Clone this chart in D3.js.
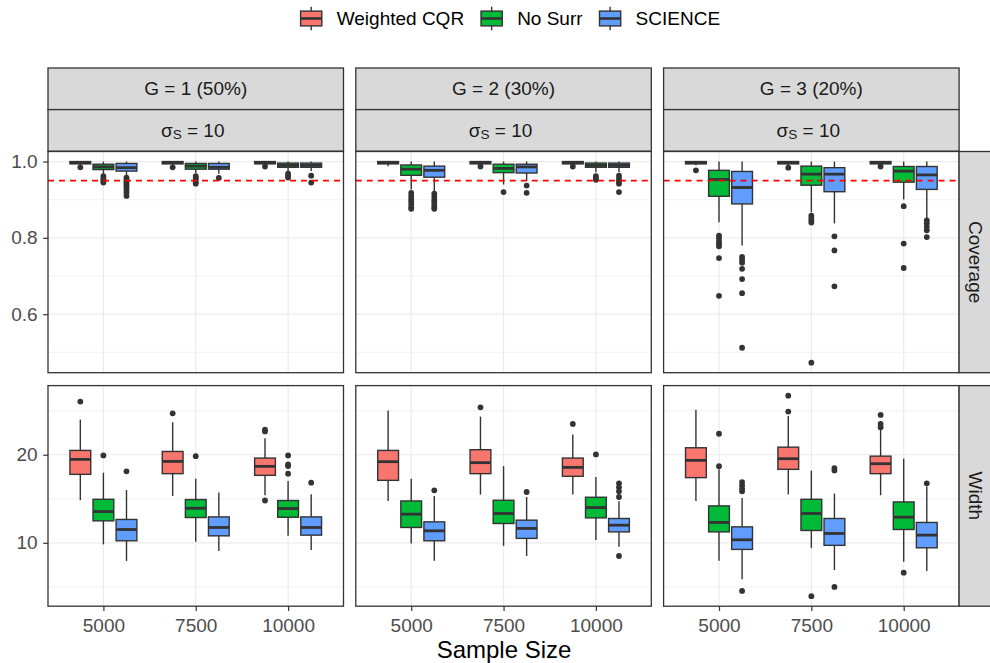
<!DOCTYPE html>
<html><head><meta charset="utf-8">
<script src="https://cdn.jsdelivr.net/npm/d3@7"></script>
<style>
body{margin:0;background:#fff}
svg{display:block}
text{font-family:"Liberation Sans",Arial,Helvetica,sans-serif}
</style>
</head><body>
<svg id="chart" width="990" height="663"></svg>
<script>
// ---------------- DATA ----------------
const groups = ["G = 1 (50%)", "G = 2 (30%)", "G = 3 (20%)"];
const sampleSizes = ["5000", "7500", "10000"];
const methods = ["Weighted CQR", "No Surr", "SCIENCE"];
const methodColors = ["#F8766D", "#00BA38", "#619CFF"];
const metrics = ["Coverage", "Width"];
const coverageTicks = [0.6, 0.8, 1.0];
const coverageMinor = [0.5, 0.7, 0.9];
const widthTicks = [10, 20];
const widthMinor = [5, 15, 25];
const targetCoverage = 0.95;

// [lower whisker, Q1, median, Q3, upper whisker]; [group][sample size][method]
const coverageStats = [
  [ // G = 1
    [[0.990,0.994,0.997,1.000,1.000],[0.968,0.979,0.986,0.993,1.000],[0.963,0.975,0.984,0.995,1.000]],
    [[0.990,0.994,0.997,1.000,1.000],[0.970,0.980,0.988,0.995,1.000],[0.968,0.980,0.985,0.995,1.000]],
    [[0.990,0.994,0.997,1.000,1.000],[0.975,0.985,0.990,0.996,1.000],[0.975,0.985,0.990,0.996,1.000]]
  ],
  [ // G = 2
    [[0.988,0.994,0.997,1.000,1.000],[0.927,0.964,0.980,0.991,1.000],[0.923,0.959,0.977,0.988,1.000]],
    [[0.990,0.994,0.997,1.000,1.000],[0.940,0.971,0.982,0.993,1.000],[0.949,0.970,0.986,0.993,1.000]],
    [[0.990,0.994,0.997,1.000,1.000],[0.972,0.985,0.990,0.996,1.000],[0.972,0.985,0.990,0.996,1.000]]
  ],
  [ // G = 3
    [[0.990,0.994,0.997,1.000,1.000],[0.841,0.909,0.953,0.977,1.000],[0.780,0.889,0.932,0.974,1.000]],
    [[0.990,0.994,0.997,1.000,1.000],[0.867,0.938,0.967,0.988,1.000],[0.838,0.921,0.967,0.984,1.000]],
    [[0.990,0.994,0.997,1.000,1.000],[0.901,0.946,0.975,0.987,1.000],[0.852,0.927,0.965,0.987,1.000]]
  ]
];
const coverageOutliers = [
  [
    [[0.985],[0.962,0.957,0.952,0.948,0.945],[0.958,0.953,0.948,0.943,0.938,0.932,0.925,0.918,0.910]],
    [[0.985],[0.962,0.957,0.952,0.946,0.942],[0.957]],
    [[0.987],[0.968,0.963,0.958],[0.963,0.945]]
  ],
  [
    [[],[0.918,0.910,0.902,0.895,0.888,0.880,0.876],[0.916,0.908,0.900,0.894,0.887,0.880,0.876]],
    [[0.987],[0.920],[0.937,0.918]],
    [[0.987],[0.962,0.957,0.952],[0.963,0.955,0.948,0.942,0.920]]
  ],
  [
    [[0.977],[0.806,0.800,0.792,0.785,0.778,0.747,0.648],[0.750,0.742,0.735,0.719,0.692,0.655,0.512]],
    [[0.984],[0.858,0.852,0.846,0.840,0.473],[0.804,0.767,0.673]],
    [[0.987],[0.883,0.785,0.721],[0.846,0.838,0.829,0.820,0.802]]
  ]
];
const widthStats = [
  [
    [[14.83,17.77,19.47,20.49,23.99],[9.82,12.49,13.55,14.94,17.96],[7.93,10.23,11.51,12.65,16.00]],
    [[15.32,17.85,19.24,20.37,23.69],[10.11,12.87,13.92,14.91,17.28],[9.06,10.79,11.74,12.94,15.70]],
    [[15.40,17.66,18.68,19.62,21.88],[10.79,12.90,13.89,14.80,17.01],[9.17,10.87,11.74,12.94,15.51]]
  ],
  [
    [[14.75,17.09,19.21,20.49,25.01],[9.93,11.74,13.25,14.75,17.28],[7.96,10.23,11.36,12.38,15.32]],
    [[15.47,17.85,19.10,20.57,24.33],[9.66,12.19,13.33,14.83,18.71],[8.50,10.50,11.63,12.57,15.20]],
    [[15.47,17.55,18.56,19.62,22.30],[10.31,12.83,14.00,15.17,17.47],[9.55,11.24,12.00,12.76,14.72]]
  ],
  [
    [[14.75,17.40,19.36,20.79,25.12],[7.96,11.24,12.31,14.19,18.35],[5.86,9.25,10.34,11.81,15.09]],
    [[15.47,18.34,19.55,20.86,24.40],[9.43,11.40,13.33,14.94,18.19],[6.91,9.71,11.06,12.76,15.59]],
    [[15.40,17.85,18.98,19.84,22.94],[7.85,11.51,12.91,14.64,19.55],[6.80,9.43,10.87,12.31,16.40]]
  ]
];
const widthOutliers = [
  [
    [[26.03],[19.92],[18.11]],
    [[24.70],[19.84],[]],
    [[22.86,22.64,14.80],[19.92,18.90,18.71,17.85],[16.83]]
  ],
  [
    [[],[],[15.96]],
    [[25.38],[],[15.77]],
    [[23.50],[20.03],[16.75,16.30,15.85,15.20,8.50]]
  ],
  [
    [[],[22.38,18.70],[16.90,16.53,16.15,15.85,4.54]],
    [[26.71,24.90],[3.94],[18.48,18.22,4.99]],
    [[24.52,23.50,23.12],[6.61],[16.75]]
  ]
];

// ---------------- LAYOUT ----------------
const svg = d3.select("#chart");
const panelX = [48, 355.8, 663.6];
const panelW = 295.5;
const stripTop = 68, stripH = 41.6;
const rows = [{y: 151.5, h: 221.2}, {y: 385.6, h: 220.6}];
const rightStripX = 959.1, rightStripW = 41.5;
const dark = "#333333";
const FS = 19;

const metricStats = [coverageStats, widthStats];
const metricOut = [coverageOutliers, widthOutliers];
const majorTicks = [coverageTicks, widthTicks];
const minorTicks = [coverageMinor, widthMinor];
const fmts = [d3.format(".1f"), d3.format("d")];

// top strips
groups.forEach((g, gi) => {
  const x0 = panelX[gi];
  svg.append("rect").attr("x", x0).attr("y", stripTop).attr("width", panelW).attr("height", stripH)
    .attr("fill", "#D9D9D9").attr("stroke", dark).attr("stroke-width", 1.3);
  svg.append("text").attr("x", x0 + panelW / 2).attr("y", stripTop + stripH / 2)
    .attr("text-anchor", "middle").attr("dominant-baseline", "central")
    .attr("font-size", FS).attr("fill", "#1A1A1A").text(g);
  svg.append("rect").attr("x", x0).attr("y", stripTop + stripH).attr("width", panelW).attr("height", stripH)
    .attr("fill", "#D9D9D9").attr("stroke", dark).attr("stroke-width", 1.3);
  const t = svg.append("text").attr("x", x0 + panelW / 2 - 3).attr("y", stripTop + stripH * 1.5)
    .attr("text-anchor", "middle").attr("dominant-baseline", "central")
    .attr("font-size", FS).attr("fill", "#1A1A1A");
  t.append("tspan").text("σ");
  t.append("tspan").attr("font-size", 13.5).attr("dy", 4).text("S");
  t.append("tspan").attr("dy", -4).text(" = 10");
});

metrics.forEach((metric, r) => {
  const vals = metricStats[r].flat(3).concat(metricOut[r].flat(3));
  const lo = d3.min(vals), hi = d3.max(vals), pad = (hi - lo) * 0.05;
  const y = d3.scaleLinear().domain([lo - pad, hi + pad]).range([rows[r].y + rows[r].h, rows[r].y]);
  const top = rows[r].y, bot = rows[r].y + rows[r].h;

  groups.forEach((g, gi) => {
    const x0 = panelX[gi];
    const x = d3.scalePoint().domain(sampleSizes).range([x0, x0 + panelW]).padding(0.6);
    const step = x.step();
    const pg = svg.append("g");
    pg.append("rect").attr("x", x0).attr("y", top).attr("width", panelW).attr("height", rows[r].h).attr("fill", "#fff");
    // minor grid
    minorTicks[r].filter(v => y(v) > top && y(v) < bot).forEach(v => {
      pg.append("line").attr("x1", x0).attr("x2", x0 + panelW).attr("y1", y(v)).attr("y2", y(v))
        .attr("stroke", "#EBEBEB").attr("stroke-width", 0.6);
    });
    majorTicks[r].forEach(v => {
      pg.append("line").attr("x1", x0).attr("x2", x0 + panelW).attr("y1", y(v)).attr("y2", y(v))
        .attr("stroke", "#EBEBEB").attr("stroke-width", 1.2);
    });
    sampleSizes.forEach(s => {
      pg.append("line").attr("x1", x(s)).attr("x2", x(s)).attr("y1", top).attr("y2", bot)
        .attr("stroke", "#EBEBEB").attr("stroke-width", 1.2);
    });

    const bw = step * 0.25 * 0.9;
    sampleSizes.forEach((s, si) => {
      methods.forEach((m, mi) => {
        const cx = x(s) + (mi - 1) * step * 0.25;
        const st = metricStats[r][gi][si][mi];
        const outs = metricOut[r][gi][si][mi];
        const bg = pg.append("g");
        outs.forEach(v => {
          bg.append("circle").attr("cx", cx).attr("cy", y(v)).attr("r", 2.9).attr("fill", dark);
        });
        bg.append("line").attr("x1", cx).attr("x2", cx).attr("y1", y(st[4])).attr("y2", y(st[3]))
          .attr("stroke", dark).attr("stroke-width", 1.4);
        bg.append("line").attr("x1", cx).attr("x2", cx).attr("y1", y(st[1])).attr("y2", y(st[0]))
          .attr("stroke", dark).attr("stroke-width", 1.4);
        bg.append("rect").attr("x", cx - bw / 2).attr("width", bw)
          .attr("y", y(st[3])).attr("height", Math.max(0, y(st[1]) - y(st[3])))
          .attr("fill", methodColors[mi]).attr("stroke", dark).attr("stroke-width", 1.4);
        bg.append("line").attr("x1", cx - bw / 2).attr("x2", cx + bw / 2).attr("y1", y(st[2])).attr("y2", y(st[2]))
          .attr("stroke", dark).attr("stroke-width", 2.8);
      });
    });

    if (r === 0) {
      pg.append("line").attr("x1", x0).attr("x2", x0 + panelW)
        .attr("y1", y(targetCoverage)).attr("y2", y(targetCoverage))
        .attr("stroke", "#FF0000").attr("stroke-width", 1.6).attr("stroke-dasharray", "6,5");
    }
    pg.append("rect").attr("x", x0).attr("y", top).attr("width", panelW).attr("height", rows[r].h)
      .attr("fill", "none").attr("stroke", dark).attr("stroke-width", 1.3);

    if (r === metrics.length - 1) {
      const ax = svg.append("g").attr("transform", `translate(0,${bot})`)
        .call(d3.axisBottom(x).tickSize(4.7).tickPadding(7.5));
      ax.select(".domain").remove();
      ax.selectAll(".tick line").attr("stroke", dark).attr("stroke-width", 1.2);
      ax.selectAll(".tick text").attr("font-size", FS).attr("fill", "#4D4D4D")
        .attr("font-family", "Liberation Sans, Arial, sans-serif");
    }
  });

  // y axis
  const ay = svg.append("g").attr("transform", `translate(${panelX[0]},0)`)
    .call(d3.axisLeft(y).tickValues(majorTicks[r]).tickFormat(fmts[r]).tickSize(4.8).tickPadding(5.6));
  ay.select(".domain").remove();
  ay.selectAll(".tick line").attr("stroke", dark).attr("stroke-width", 1.2);
  ay.selectAll(".tick text").attr("font-size", FS).attr("fill", "#4D4D4D")
    .attr("font-family", "Liberation Sans, Arial, sans-serif");

  // right strip
  svg.append("rect").attr("x", rightStripX).attr("y", top).attr("width", rightStripW).attr("height", rows[r].h)
    .attr("fill", "#D9D9D9").attr("stroke", dark).attr("stroke-width", 1.3);
  svg.append("text").attr("transform", `translate(975,${top + rows[r].h / 2}) rotate(90)`)
    .attr("text-anchor", "middle").attr("dominant-baseline", "central")
    .attr("font-size", FS).attr("fill", "#1A1A1A").text(metric);
});

// axis title
svg.append("text").attr("x", 504).attr("y", 658).attr("text-anchor", "middle")
  .attr("font-size", 24).attr("fill", "#000").text("Sample Size");

// legend
let lx = 311.2;
const ly = 18.5;
methods.forEach((m, mi) => {
  const lg = svg.append("g");
  lg.append("line").attr("x1", lx).attr("x2", lx).attr("y1", ly - 11.8).attr("y2", ly + 11.8)
    .attr("stroke", dark).attr("stroke-width", 1.4);
  lg.append("rect").attr("x", lx - 10.6).attr("y", ly - 7.4).attr("width", 21.2).attr("height", 14.8)
    .attr("fill", methodColors[mi]).attr("stroke", dark).attr("stroke-width", 1.4);
  lg.append("line").attr("x1", lx - 10.6).attr("x2", lx + 10.6).attr("y1", ly).attr("y2", ly)
    .attr("stroke", dark).attr("stroke-width", 2.6);
  const t = lg.append("text").attr("x", lx + 25.5).attr("y", ly).attr("dominant-baseline", "central")
    .attr("font-size", FS).attr("fill", "#000").text(m);
  lx = lx + 25.5 + t.node().getComputedTextLength() + 27.5;
});
</script>
</body></html>
